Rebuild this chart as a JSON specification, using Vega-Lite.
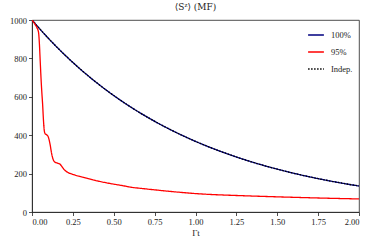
{
  "$schema": "https://vega.github.io/schema/vega-lite/v6.json",
  "width": 327,
  "height": 192,
  "autosize": {"type": "none"},
  "padding": {"left": 32, "top": 20, "right": 15, "bottom": 34},
  "background": "white",
  "title": {"text": "⟨Sᶻ⟩ (MF)", "font": "DejaVu Serif", "fontSize": 9, "fontWeight": "normal", "color": "#222", "offset": 4},
  "config": {
    "view": {"stroke": "#222", "strokeWidth": 0.8},
    "font": "Liberation Serif",
    "axis": {"grid": false, "domainColor": "#222", "tickColor": "#222", "labelFont": "Liberation Serif", "labelFontSize": 8.5, "labelColor": "#222", "titleFont": "Liberation Serif", "titleFontSize": 9, "titleFontWeight": "normal", "titleColor": "#222", "tickSize": 3.5, "domainWidth": 0.8, "tickWidth": 0.8}
  },
  "data": {"values": [
    {"t": 0.0, "v": 1000, "s": "100%"}, {"t": 0.1, "v": 904.8, "s": "100%"}, {"t": 0.2, "v": 818.7, "s": "100%"}, {"t": 0.3, "v": 740.8, "s": "100%"}, {"t": 0.4, "v": 670.3, "s": "100%"}, {"t": 0.5, "v": 606.5, "s": "100%"}, {"t": 0.6, "v": 548.8, "s": "100%"}, {"t": 0.7, "v": 496.6, "s": "100%"}, {"t": 0.8, "v": 449.3, "s": "100%"}, {"t": 0.9, "v": 406.6, "s": "100%"}, {"t": 1.0, "v": 367.9, "s": "100%"}, {"t": 1.1, "v": 332.9, "s": "100%"}, {"t": 1.2, "v": 301.2, "s": "100%"}, {"t": 1.3, "v": 272.5, "s": "100%"}, {"t": 1.4, "v": 246.6, "s": "100%"}, {"t": 1.5, "v": 223.1, "s": "100%"}, {"t": 1.6, "v": 201.9, "s": "100%"}, {"t": 1.7, "v": 182.7, "s": "100%"}, {"t": 1.8, "v": 165.3, "s": "100%"}, {"t": 1.9, "v": 149.6, "s": "100%"}, {"t": 2.0, "v": 135.3, "s": "100%"},
    {"t": 0.0, "v": 1000, "s": "Indep."}, {"t": 0.1, "v": 904.8, "s": "Indep."}, {"t": 0.2, "v": 818.7, "s": "Indep."}, {"t": 0.3, "v": 740.8, "s": "Indep."}, {"t": 0.4, "v": 670.3, "s": "Indep."}, {"t": 0.5, "v": 606.5, "s": "Indep."}, {"t": 0.6, "v": 548.8, "s": "Indep."}, {"t": 0.7, "v": 496.6, "s": "Indep."}, {"t": 0.8, "v": 449.3, "s": "Indep."}, {"t": 0.9, "v": 406.6, "s": "Indep."}, {"t": 1.0, "v": 367.9, "s": "Indep."}, {"t": 1.1, "v": 332.9, "s": "Indep."}, {"t": 1.2, "v": 301.2, "s": "Indep."}, {"t": 1.3, "v": 272.5, "s": "Indep."}, {"t": 1.4, "v": 246.6, "s": "Indep."}, {"t": 1.5, "v": 223.1, "s": "Indep."}, {"t": 1.6, "v": 201.9, "s": "Indep."}, {"t": 1.7, "v": 182.7, "s": "Indep."}, {"t": 1.8, "v": 165.3, "s": "Indep."}, {"t": 1.9, "v": 149.6, "s": "Indep."}, {"t": 2.0, "v": 135.3, "s": "Indep."},
    {"t": 0.0, "v": 1000, "s": "95%"}, {"t": 0.01, "v": 988, "s": "95%"}, {"t": 0.02, "v": 975, "s": "95%"}, {"t": 0.03, "v": 960, "s": "95%"}, {"t": 0.04, "v": 935, "s": "95%"}, {"t": 0.045, "v": 880, "s": "95%"}, {"t": 0.05, "v": 790, "s": "95%"}, {"t": 0.055, "v": 700, "s": "95%"}, {"t": 0.06, "v": 625, "s": "95%"}, {"t": 0.065, "v": 560, "s": "95%"}, {"t": 0.07, "v": 480, "s": "95%"}, {"t": 0.075, "v": 425, "s": "95%"}, {"t": 0.08, "v": 408, "s": "95%"}, {"t": 0.09, "v": 402, "s": "95%"}, {"t": 0.1, "v": 390, "s": "95%"}, {"t": 0.11, "v": 355, "s": "95%"}, {"t": 0.12, "v": 305, "s": "95%"}, {"t": 0.13, "v": 272, "s": "95%"}, {"t": 0.14, "v": 260, "s": "95%"}, {"t": 0.155, "v": 255, "s": "95%"}, {"t": 0.17, "v": 250, "s": "95%"}, {"t": 0.18, "v": 240, "s": "95%"}, {"t": 0.19, "v": 228, "s": "95%"}, {"t": 0.2, "v": 218, "s": "95%"}, {"t": 0.22, "v": 206, "s": "95%"}, {"t": 0.25, "v": 196, "s": "95%"}, {"t": 0.3, "v": 184, "s": "95%"}, {"t": 0.35, "v": 173, "s": "95%"}, {"t": 0.4, "v": 162, "s": "95%"}, {"t": 0.45, "v": 153, "s": "95%"}, {"t": 0.5, "v": 145, "s": "95%"}, {"t": 0.55, "v": 138, "s": "95%"}, {"t": 0.6, "v": 130, "s": "95%"}, {"t": 0.7, "v": 120, "s": "95%"}, {"t": 0.8, "v": 111, "s": "95%"}, {"t": 0.9, "v": 103, "s": "95%"}, {"t": 1.0, "v": 96, "s": "95%"}, {"t": 1.1, "v": 91, "s": "95%"}, {"t": 1.25, "v": 86, "s": "95%"}, {"t": 1.5, "v": 79, "s": "95%"}, {"t": 1.75, "v": 73, "s": "95%"}, {"t": 2.0, "v": 68, "s": "95%"}
  ]},
  "mark": {"type": "line", "strokeWidth": 1.3, "interpolate": "monotone", "clip": true},
  "encoding": {
    "x": {"field": "t", "type": "quantitative", "scale": {"domain": [0, 2], "nice": false}, "axis": {"values": [0, 0.25, 0.5, 0.75, 1, 1.25, 1.5, 1.75, 2], "format": ".2f", "title": "Γt", "titlePadding": 2, "labelPadding": 2}},
    "y": {"field": "v", "type": "quantitative", "scale": {"domain": [0, 1000], "nice": false}, "axis": {"values": [0, 200, 400, 600, 800, 1000], "format": "d", "title": null, "labelPadding": 2}},
    "color": {"field": "s", "type": "nominal", "scale": {"domain": ["100%", "95%", "Indep."], "range": ["#000080", "#ff0000", "#000000"]}, "legend": {"title": null, "orient": "top-right", "offset": 6, "symbolType": "stroke", "symbolSize": 250, "symbolStrokeWidth": 1.3, "labelFont": "Liberation Serif", "labelFontSize": 8.5, "labelColor": "#222", "rowPadding": 3, "labelOffset": 6}},
    "strokeDash": {"field": "s", "type": "nominal", "scale": {"domain": ["100%", "95%", "Indep."], "range": [[1, 0], [1, 0], [1.5, 1.5]]}, "legend": null}
  }
}
